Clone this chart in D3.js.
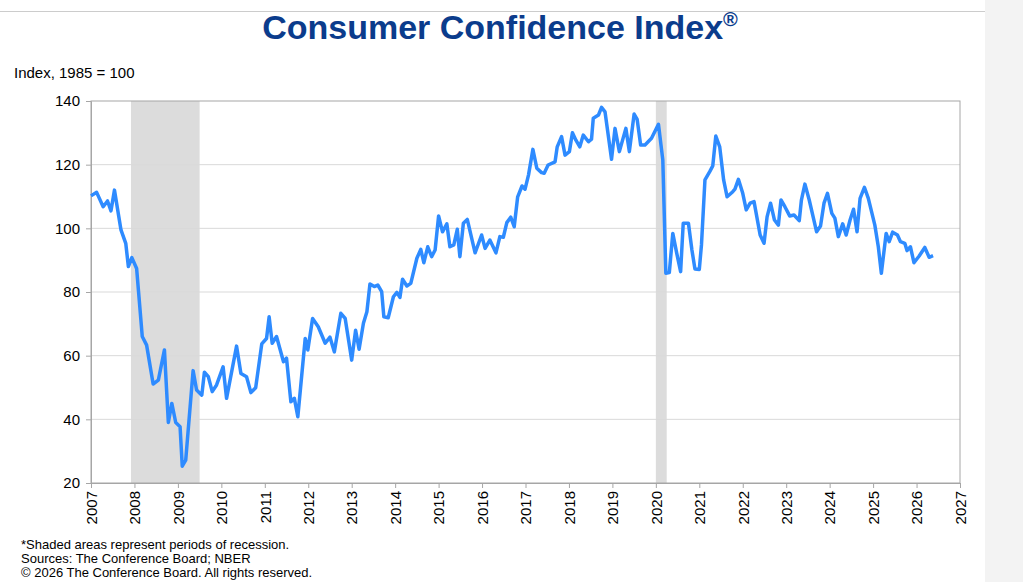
<!DOCTYPE html>
<html>
<head>
<meta charset="utf-8">
<script src="https://cdn.jsdelivr.net/npm/d3@7"></script>
<style>
body { margin:0; background:#fff; font-family: "Liberation Sans", Arial, sans-serif; }
</style>
</head>
<body>
<div id="graph"></div>
<script>
// data (decimal year, index value)
const years = [2007,2007.13,2007.28,2007.38,2007.46,2007.54,2007.69,2007.8,2007.86,2007.94,2008.05,2008.18,2008.28,2008.43,2008.55,2008.69,2008.78,2008.86,2008.95,2009.05,2009.1,2009.18,2009.35,2009.43,2009.55,2009.61,2009.7,2009.79,2009.89,2010.04,2010.12,2010.35,2010.45,2010.58,2010.68,2010.79,2010.93,2011.04,2011.1,2011.17,2011.27,2011.43,2011.5,2011.6,2011.68,2011.76,2011.93,2011.99,2012.1,2012.23,2012.39,2012.5,2012.6,2012.75,2012.85,2013.0,2013.09,2013.17,2013.27,2013.35,2013.42,2013.52,2013.6,2013.69,2013.74,2013.84,2013.96,2014.04,2014.11,2014.17,2014.27,2014.36,2014.5,2014.59,2014.66,2014.75,2014.84,2014.92,2015.0,2015.09,2015.19,2015.26,2015.35,2015.43,2015.49,2015.57,2015.66,2015.84,2015.99,2016.07,2016.18,2016.32,2016.41,2016.49,2016.57,2016.66,2016.74,2016.82,2016.92,2016.99,2017.07,2017.17,2017.26,2017.37,2017.43,2017.52,2017.68,2017.73,2017.83,2017.91,2018.01,2018.08,2018.16,2018.25,2018.33,2018.45,2018.52,2018.56,2018.68,2018.75,2018.83,2018.98,2019.06,2019.16,2019.31,2019.39,2019.5,2019.57,2019.65,2019.75,2019.9,2020.06,2020.16,2020.23,2020.31,2020.39,2020.48,2020.57,2020.63,2020.75,2020.83,2020.9,2021.0,2021.05,2021.13,2021.24,2021.31,2021.38,2021.47,2021.56,2021.64,2021.77,2021.82,2021.9,2022.0,2022.08,2022.17,2022.26,2022.4,2022.49,2022.56,2022.64,2022.73,2022.82,2022.88,2022.97,2023.08,2023.18,2023.3,2023.35,2023.43,2023.53,2023.7,2023.79,2023.87,2023.95,2024.05,2024.12,2024.2,2024.3,2024.38,2024.47,2024.55,2024.63,2024.7,2024.8,2024.89,2025.04,2025.12,2025.19,2025.3,2025.37,2025.45,2025.56,2025.63,2025.73,2025.78,2025.86,2025.94,2026.06,2026.19,2026.29,2026.38];
const values = [110.2,111.3,106.8,108.6,105.5,112,99.5,95.3,88,90.8,87.4,66,63.3,51.1,52.3,61.8,39,45,39,37.7,25.3,27.2,55.3,49.2,47.6,54.8,53.4,48.7,50.8,56.5,46.6,63,54.4,53.4,48.4,49.9,63.7,65.4,72.2,63.9,66,58.1,59.2,45.5,46.6,40.8,65.4,61.8,71.7,69.1,63.9,65.8,61.2,73.3,71.7,58.6,68,62,70.2,73.8,82.5,81.7,82.2,80.1,72.2,71.9,78.5,79.9,78.3,84,81.9,82.7,90.6,93.4,89.2,94.2,91.1,93.2,103.9,98.9,101.4,94.2,94.8,99.7,91.1,101.6,102.8,92.3,97.9,93.7,96.3,92.3,97.4,97.2,101.8,103.5,100.5,109.9,113.3,112.3,116.8,124.8,118.9,117.5,117.3,119.9,120.9,125.6,128.8,123,124.1,130,127.7,125.6,129.3,127.2,128,134.6,135.6,138,136.6,121.7,131.4,124.1,131.4,124.1,135.9,134.2,126.2,126.2,128.3,132.7,121.5,85.9,86.1,98.4,92.2,86.4,101.6,101.6,93.2,87.2,87.1,94.8,115.2,117.8,119.6,129,125.6,115.2,109.9,111.5,112.3,115.4,111,105.8,107.9,108.4,97.9,95.3,103.6,107.9,102.6,101,108.9,106.8,103.9,104.2,102.4,108.9,113.9,108.9,98.9,100.7,107.9,111,104.7,103.2,97.4,101.4,97.9,102.6,106,98.9,109.4,112.9,109.4,101,94.2,85.9,98.4,95.8,98.8,97.9,95.8,95.3,93,94.2,89.2,91.3,94,90.9,91.4];
const recessions = [[2007.92, 2009.5], [2020.0, 2020.25]];
const yTicks = [20,40,60,80,100,120,140];
const xTicks = d3.range(2007, 2028);

const W = 1023, H = 582;
const margin = {top: 101, left: 91, right: 63, bottom: 99};
const width = 960 - margin.left;
const height = 483 - margin.top;

const svg = d3.select("#graph").append("svg")
  .attr("width", W).attr("height", H);

// screenshot frame bits
svg.append("rect").attr("x", 985).attr("y", 0).attr("width", 38).attr("height", H).attr("fill", "#f3f3f3");
svg.append("line").attr("x1", 0).attr("x2", 985).attr("y1", 11.5).attr("y2", 11.5).attr("stroke", "#ccc");

svg.append("text")
  .attr("x", 500).attr("y", 39)
  .attr("text-anchor", "middle")
  .attr("fill", "#0b3c8c")
  .style("font-size", "34px").style("font-weight", "bold")
  .text("Consumer Confidence Index")
  .append("tspan").attr("dy", -13).style("font-size", "20px").text("®");

svg.append("text").attr("x", 14).attr("y", 78)
  .style("font-size", "15px").attr("fill", "#000").text("Index, 1985 = 100");

const g = svg.append("g").attr("transform", `translate(${margin.left},${margin.top})`);

const x = d3.scaleLinear().domain([2007, 2027]).range([0, width]);
const y = d3.scaleLinear().domain([20, 140]).range([height, 0]);

// recession bands
g.selectAll(".rec").data(recessions).join("rect")
  .attr("x", d => x(d[0])).attr("width", d => x(d[1]) - x(d[0]))
  .attr("y", 0).attr("height", height)
  .attr("fill", "#dcdcdc");

// gridlines
g.selectAll(".grid").data(yTicks.slice(1, -1)).join("line")
  .attr("x1", 0).attr("x2", width)
  .attr("y1", d => y(d)).attr("y2", d => y(d))
  .attr("stroke", "#d9d9d9").attr("stroke-width", 1);

g.append("rect").attr("width", width).attr("height", height)
  .attr("fill", "none").attr("stroke", "#a6a6a6");

// y axis
const yAxis = g.append("g").call(d3.axisLeft(y).tickValues(yTicks).tickSize(5).tickPadding(6));
yAxis.select(".domain").attr("stroke", "#a6a6a6");
yAxis.selectAll("line").attr("stroke", "#a6a6a6");
yAxis.selectAll("text").style("font-size", "15px").style("font-family", "Liberation Sans, Arial").attr("fill", "#000");

// x axis
const xAxis = g.append("g").attr("transform", `translate(0,${height})`)
  .call(d3.axisBottom(x).tickValues(xTicks).tickFormat(d3.format("d")).tickSize(5));
xAxis.select(".domain").attr("stroke", "#a6a6a6");
xAxis.selectAll("line").attr("stroke", "#a6a6a6");
xAxis.selectAll("text")
  .style("font-size", "15px").style("font-family", "Liberation Sans, Arial").attr("fill", "#000")
  .attr("transform", "rotate(-90)")
  .attr("text-anchor", "end")
  .attr("x", -8).attr("y", 0).attr("dy", "0.35em");

// index line
const line = d3.line().x((d, i) => x(years[i])).y(d => y(d));
g.append("path").datum(values)
  .attr("d", line)
  .attr("fill", "none")
  .attr("stroke", "#2e8bff")
  .attr("stroke-width", 3.5)
  .attr("stroke-linejoin", "round");

// footnotes
const notes = ["*Shaded areas represent periods of recession.", "Sources:  The Conference Board;  NBER", "© 2026 The Conference Board. All rights reserved."];
svg.selectAll(".note").data(notes).join("text")
  .attr("x", 21).attr("y", (d, i) => 549 + i * 14)
  .style("font-size", "13px").attr("fill", "#000")
  .text(d => d);
</script>
</body>
</html>
